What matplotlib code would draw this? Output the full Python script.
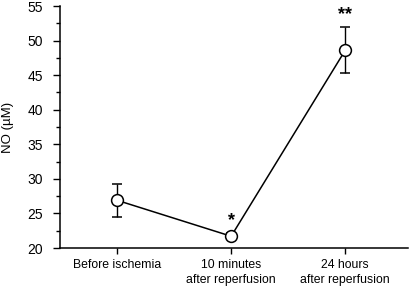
import matplotlib
matplotlib.use("Agg")
import matplotlib.pyplot as plt
from matplotlib.ticker import MultipleLocator

plt.rcParams["font.family"] = ["Liberation Sans", "DejaVu Sans"]

# data
labels = ["Before ischemia", "10 minutes\nafter reperfusion", "24 hours\nafter reperfusion"]
no_mean = [26.9, 21.7, 48.6]
no_err = [2.4, 0.4, 3.3]
marks = ["", "*", "**"]

fig = plt.figure(figsize=(4.12, 2.86), dpi=100)
ax = fig.add_axes([60/412, 1 - 248/286, 348/412, 242/286])

x = list(range(len(labels)))
ax.errorbar(x, no_mean, yerr=no_err, color="black", linewidth=1.1,
            elinewidth=1.0, capsize=3.5, capthick=1.0,
            marker="o", markersize=8.5, markerfacecolor="white",
            markeredgecolor="black", markeredgewidth=1.1, zorder=3)

for xi, m, e, s in zip(x, no_mean, no_err, marks):
    if s:
        ax.text(xi, m + e + 0.6, s, ha="center", va="bottom",
                fontsize=13, fontweight="bold")

ax.set_xlim(-0.5, 2.55)
ax.set_ylim(20, 55)
ax.yaxis.set_major_locator(MultipleLocator(5))
ax.yaxis.set_minor_locator(MultipleLocator(2.5))
ax.set_xticks(x)
ax.set_xticklabels(labels, fontsize=8.8, linespacing=1.35)
ax.tick_params(axis="y", labelsize=10, length=5, width=1, pad=7)
ax.tick_params(axis="y", which="minor", length=3, width=1)
ax.tick_params(axis="x", length=4, width=1, pad=4)
ax.set_ylabel("NO (µM)", fontsize=9.5, labelpad=10)

for side in ["top", "right"]:
    ax.spines[side].set_visible(False)
for side in ["left", "bottom"]:
    ax.spines[side].set_linewidth(1.1)

fig.savefig("out.png", dpi=100)
